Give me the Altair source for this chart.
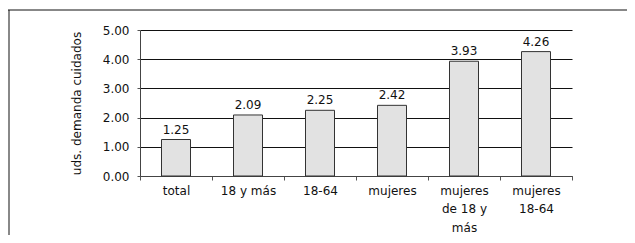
import altair as alt
import pandas as pd

categories = ["total", "18 y más", "18-64", "mujeres", "mujeres|de 18 y|más", "mujeres|18-64"]
values = [1.25, 2.09, 2.25, 2.42, 3.93, 4.26]
y_ticks = [0, 1, 2, 3, 4, 5]

df = pd.DataFrame({"cat": categories, "val": values})

FONT = "DejaVu Sans"

x_enc = alt.X(
    "cat:N",
    sort=categories,
    scale=alt.Scale(paddingInner=0, paddingOuter=0),
    axis=alt.Axis(
        title=None,
        labelAngle=0,
        labelExpr="split(datum.label, '|')",
        labelLineHeight=18.5,
        labelBaseline="top",
        labelPadding=5,
        labelFontSize=12,
        labelColor="#111",
        tickBand="extent",
        tickSize=4,
        tickColor="#555",
        domainColor="#444",
        grid=False,
    ),
)
y_enc = alt.Y(
    "val:Q",
    scale=alt.Scale(domain=[0, 5], nice=False),
    axis=alt.Axis(
        title="uds. demanda cuidados",
        values=y_ticks,
        format=".2f",
        labelOverlap=False,
        tickSize=3,
        tickColor="#555",
        domainColor="#444",
        gridColor="#111",
        gridWidth=1,
        labelPadding=8,
        labelFontSize=12,
        labelColor="#111",
        titleFontSize=12,
        titleFontWeight="normal",
        titleColor="#111",
        titlePadding=19,
    ),
)

base = alt.Chart(df).encode(x=x_enc, y=y_enc)
bars = base.mark_bar(size=29, fill="#e2e2e2", stroke="#333", strokeWidth=1)
labels = base.mark_text(baseline="alphabetic", dy=-6, fontSize=12, color="#111", font=FONT).encode(
    text=alt.Text("val:Q", format=".2f"),
)

frame_df = pd.DataFrame({"k": [0]})
left_line = alt.Chart(frame_df).mark_rule(color="#888", strokeWidth=2).encode(
    x=alt.value(-131), y=alt.value(-20), y2=alt.value(260)
)
top_line = alt.Chart(frame_df).mark_rule(color="#111", strokeWidth=1).encode(
    x=alt.value(-132), x2=alt.value(520), y=alt.value(-20)
)

chart = (
    alt.layer(bars, labels, left_line, top_line)
    .properties(
        width=432,
        height=146,
        padding={"left": 132, "top": 22, "right": 55, "bottom": 59},
        autosize=alt.AutoSizeParams(type="none"),
    )
    .configure(font=FONT)
    .configure_view(stroke="transparent")
    .configure_axis(labelFont=FONT, titleFont=FONT)
)

chart.save("out.html", embed_options={"renderer": "svg", "actions": False})
